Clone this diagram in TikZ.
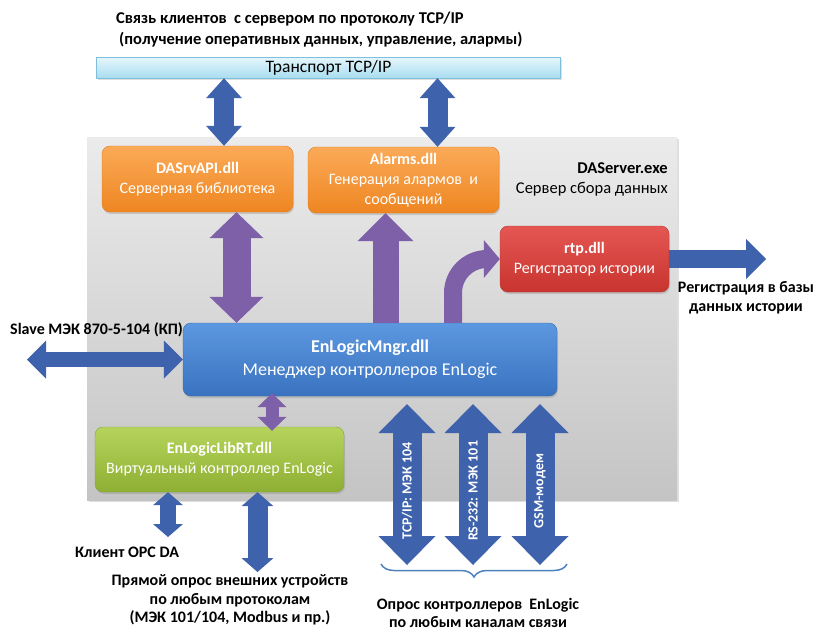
\documentclass[tikz,border=0pt]{standalone}
\usepackage{fontspec}
\setmainfont{Carlito}
\usetikzlibrary{arrows.meta,shadows,calc,decorations.pathreplacing}

\definecolor{bgTop}{HTML}{EBEBEB}
\definecolor{bgBot}{HTML}{C4C4C4}
\definecolor{cyTop}{HTML}{E6F6FC}
\definecolor{cyBot}{HTML}{A9DDF0}
\definecolor{cyLine}{HTML}{7FBFDC}
\definecolor{orTop}{HTML}{FBAA58}
\definecolor{orBot}{HTML}{EE8621}
\definecolor{orLine}{HTML}{E07C1C}
\definecolor{redTop}{HTML}{E55753}
\definecolor{redBot}{HTML}{C8342F}
\definecolor{redLine}{HTML}{B83330}
\definecolor{bluTop}{HTML}{5C98E0}
\definecolor{bluBot}{HTML}{3A72C0}
\definecolor{bluLine}{HTML}{3468AE}
\definecolor{grnTop}{HTML}{B6D45C}
\definecolor{grnBot}{HTML}{8DAF33}
\definecolor{grnLine}{HTML}{86A536}
\definecolor{arrBlue}{HTML}{3E62AC}
\definecolor{arrPurple}{HTML}{7E60A8}
\definecolor{braceBlue}{HTML}{4F81BD}

\tikzset{
    modul/.style={rounded corners=8, align=center, text=white, inner sep=0pt,
        drop shadow={opacity=0.3, shadow xshift=1pt, shadow yshift=-2pt}},
    orbox/.style={modul, top color=orTop, bottom color=orBot, draw=orLine},
    redbox/.style={modul, top color=redTop, bottom color=redBot, draw=redLine},
    blubox/.style={modul, top color=bluTop, bottom color=bluBot, draw=bluLine},
    grnbox/.style={modul, top color=grnTop, bottom color=grnBot, draw=grnLine},
    lbl/.style={font=\fontsize{16}{18.5}\selectfont\bfseries, inner sep=0pt},
    fatarr/.style n args={3}{line width=#1,
        >={Triangle[width=#2,length=#3,line width=0pt]}},
    bluarr/.style={draw=arrBlue, fill=arrBlue},
    purarr/.style={draw=arrPurple, fill=arrPurple},
}

\begin{document}
\begin{tikzpicture}[x=1pt,y=-1pt, every node/.style={font=\fontsize{16}{20}\selectfont}]
    \useasboundingbox (0,0) rectangle (816,632);

    % server frame
    \node[anchor=north west, minimum width=590, minimum height=363, inner sep=0pt,
          top color=bgTop, bottom color=bgBot,
          drop shadow={opacity=0.25, shadow xshift=1.5pt, shadow yshift=-1.5pt}] (srv) at (87,137) {};
    \node[anchor=north east, align=right, inner sep=0pt, font=\fontsize{16.5}{20.5}\selectfont] (srvtxt) at (668,162) {\textbf{DAServer.exe}\\Сервер сбора данных};

    % modules
    \node[minimum width=464, minimum height=21, inner sep=0pt, top color=cyTop, bottom color=cyBot, draw=cyLine,
          font=\fontsize{17.5}{20}\selectfont,
          drop shadow={opacity=0.25, shadow xshift=1pt, shadow yshift=-1.5pt}] (tcp) at (328.5,67.5) {Транспорт TCP/IP};
    \node[orbox, minimum width=191, minimum height=66] (api) at (197.5,179) {\textbf{DASrvAPI.dll}\\Серверная библиотека};
    \node[orbox, minimum width=191, minimum height=66] (alm) at (403.5,180) {\textbf{Alarms.dll}\\Генерация алармов\ \ и\\сообщений};
    \node[redbox, minimum width=169, minimum height=66] (rtp) at (584.5,259) {\textbf{rtp.dll}\\Регистратор истории};
    \node[blubox, minimum width=374, minimum height=73, font=\fontsize{18}{23}\selectfont] (mngr) at (370,359.5) {\textbf{EnLogicMngr.dll}\\Менеджер контроллеров EnLogic};
    \node[grnbox, minimum width=249, minimum height=65] (lib) at (219.5,459.5) {\textbf{EnLogicLibRT.dll}\\Виртуальный контроллер EnLogic};

    % outside labels
    \node[lbl, anchor=north west, align=left, font=\fontsize{16.5}{21}\selectfont\bfseries] (clients) at (116,12) {Связь клиентов\ \ с сервером по протоколу TCP/IP\\\hspace*{3pt}(получение оперативных данных, управление, алармы)};
    \node[lbl, anchor=west] (slave) at (10,330) {Slave МЭК 870-5-104 (КП)};
    \node[lbl, align=center] (hist) at (746,298) {Регистрация в базы\\данных истории};
    \node[lbl, anchor=west] (opc) at (75,552) {Клиент OPC DA};
    \node[lbl, align=center] (direct) at (230,600) {Прямой опрос внешних устройств\\по любым протоколам\\(МЭК 101/104, Modbus и пр.)};
    \node[lbl, align=center] (poll) at (478,613) {Опрос контроллеров\ \ EnLogic\\по любым каналам связи};

    % free ends and offsets
    \coordinate (apiin) at ($(api.north)+(26.5,0)$);
    \coordinate (almin) at ($(alm.north)+(34,0)$);
    \coordinate (apiout) at ($(api.south)+(39,0)$);
    \coordinate (almout) at ($(alm.south)+(-18,0)$);
    \coordinate (rtpout) at ($(mngr.north)+(83,0)$);
    \coordinate (libin) at ($(lib.north)+(52.5,4)$);
    \coordinate (slaveend) at (27,359.5);
    \coordinate (histend) at (766,259);
    \coordinate (opcend) at (168,537);
    \coordinate (directend) at (257.5,572);

    % connectors
    \draw[bluarr, fatarr={20pt}{36pt}{20pt}, <->] (tcp.south -| apiin) -- (apiin);
    \draw[bluarr, fatarr={20pt}{36pt}{20pt}, <->] (tcp.south -| almin) -- (almin);
    \draw[purarr, fatarr={28pt}{54pt}{26pt}, <->] (apiout) -- (apiout |- mngr.north);
    \draw[purarr, fatarr={26pt}{56pt}{28pt}, ->] (almout |- mngr.north) -- (almout);
    \draw[draw=arrPurple, fatarr={18pt}{38pt}{16pt}, ->, rounded corners=34] (rtpout) |- (rtp.west);
    \draw[purarr, fatarr={13pt}{29pt}{14pt}, <->] ($(libin |- mngr.south)+(0,-3)$) -- (libin);
    \draw[bluarr, fatarr={15pt}{38pt}{19pt}, <->] (slaveend) -- (mngr.west);
    \draw[bluarr, fatarr={18pt}{40pt}{20pt}, ->] (rtp.east) -- (histend);
    \draw[bluarr, fatarr={16pt}{30pt}{13pt}, <->] (opcend |- lib.south) -- (opcend);
    \draw[bluarr, fatarr={20pt}{32pt}{14pt}, <->] (directend |- lib.south) -- (directend);

    % polling channels
    \foreach \cx/\ctxt [count=\i] in {407/{TCP/IP: МЭК 104}, 473/{RS-232: МЭК 101}, 540/{GSM-модем}} {
        \coordinate (chtop\i) at (\cx,404);
        \coordinate (chbot\i) at (\cx,565);
        \draw[bluarr, fatarr={29pt}{57pt}{29pt}, <->] (chtop\i) -- (chbot\i)
            node[pos=0.54, rotate=90, text=white, font=\fontsize{14}{16}\selectfont\bfseries] {\ctxt};
    }
    \draw[braceBlue, line width=1.5pt, decorate, decoration={brace, mirror, amplitude=13pt}] (381,564) -- (567,564);
\end{tikzpicture}
\end{document}
